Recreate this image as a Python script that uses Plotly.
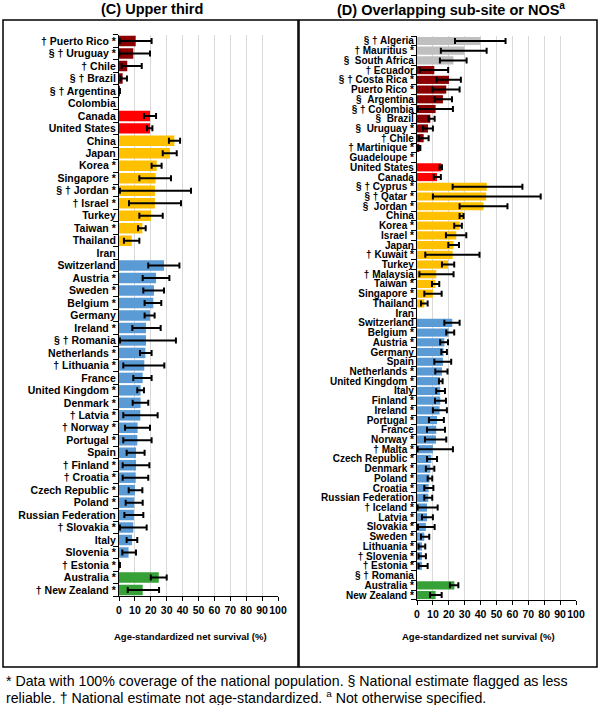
import plotly.graph_objects as go

W, H = 600, 705

# ---------------- Panel C: Upper third ----------------
c_countries = [
    "† Puerto Rico *", "§ † Uruguay *", "† Chile", "§ † Brazil", "§ † Argentina", "Colombia",
    "Canada", "United States",
    "China", "Japan", "Korea *", "Singapore *", "§ † Jordan *", "† Israel *", "Turkey",
    "Taiwan *", "Thailand", "Iran",
    "Switzerland", "Austria *", "Sweden *", "Belgium *", "Germany", "Ireland *", "§ † Romania",
    "Netherlands *", "† Lithuania *", "France", "United Kingdom *", "Denmark *", "† Latvia *",
    "† Norway *", "Portugal *", "Spain", "† Finland *", "† Croatia *", "Czech Republic *",
    "Poland *", "Russian Federation", "† Slovakia *", "Italy", "Slovenia *", "† Estonia *",
    "Australia *", "† New Zealand *",
]
c_values = [10.5, 9.0, 5.2, 2.3, 0.6, None,
            19.5, 19.5,
            34.8, 32.0, 23.7, 23.0, 22.6, 22.6, 20.1, 14.7, 8.0, None,
            28.3, 23.3, 22.0, 21.6, 19.5, 17.0, 17.0, 16.6, 15.9, 14.9, 13.6, 13.6, 13.4,
            11.7, 11.5, 10.7, 10.7, 10.5, 10.0, 9.6, 9.4, 9.0, 8.2, 6.0, 0.6,
            25.0, 14.9]
c_low = [0.5, 0.2, 1.7, 1.0, None, None,
         15.7, 17.6,
         31.4, 27.5, 20.5, 12.8, 0.6, 6.3, 12.8, 12.0, 3.1, None,
         18.4, 14.9, 15.3, 16.1, 16.1, 8.4, 0.6, 13.2, 2.7, 9.0, 11.5, 8.6, 2.7,
         3.8, 2.7, 4.8, 2.3, 2.3, 6.1, 4.2, 3.4, 0.6, 4.8, 2.1, None,
         20.0, 5.5]
c_high = [20.5, 19.5, 14.3, 5.0, None, None,
          23.3, 21.0,
          38.4, 36.3, 26.8, 32.7, 45.3, 39.0, 27.5, 16.8, 12.8, None,
          38.0, 31.7, 28.3, 26.6, 22.4, 26.2, 35.8, 20.5, 28.5, 20.5, 15.7, 18.4, 24.3,
          19.5, 20.5, 16.1, 19.1, 18.4, 14.7, 14.9, 15.3, 17.4, 11.5, 10.7, None,
          30.0, 25.2]
c_groups = (["darkred"] * 6 + ["red"] * 2 + ["amber"] * 10 + ["blue"] * 25 + ["green"] * 2)

# ---------------- Panel D: Overlapping sub-site or NOS ----------------
d_countries = [
    "§ † Algeria", "† Mauritius *", "§ \u00a0South Africa",
    "† Ecuador", "§ † Costa Rica *", "Puerto Rico *", "§ \u00a0Argentina", "§ † Colombia",
    "§ \u00a0Brazil", "§ \u00a0Uruguay *", "† Chile", "† Martinique *", "Guadeloupe *",
    "United States", "Canada",
    "§ † Cyprus *", "§ † Qatar *", "§ \u00a0Jordan *", "China", "Korea *", "Israel *", "Japan",
    "† Kuwait *", "Turkey", "† Malaysia", "Taiwan *", "Singapore *", "Thailand", "Iran",
    "Switzerland", "Belgium *", "Austria *", "Germany", "Spain", "Netherlands *",
    "United Kingdom *", "Italy", "Finland *", "Ireland *", "Portugal *", "France", "Norway *",
    "† Malta *", "Czech Republic *", "Denmark *", "Poland *", "Croatia *", "Russian Federation",
    "† Iceland *", "Latvia *", "Slovakia *", "Sweden *", "Lithuania *", "† Slovenia *",
    "† Estonia *", "§ † Romania",
    "Australia *", "New Zealand *",
]
d_values = [40.0, 29.8, 22.9,
            10.9, 20.1, 18.4, 16.3, 11.7, 8.4, 6.9, 4.2, 1.5, None,
            15.3, 12.6,
            43.9, 43.5, 41.8, 28.9, 26.8, 24.7, 23.0, 22.4, 19.5, 12.1, 11.5, 10.0, 4.6, None,
            22.2, 19.9, 17.2, 16.7, 16.3, 15.7, 14.6, 14.6, 14.6, 14.2, 12.6, 12.1, 11.9,
            10.0, 9.0, 8.4, 7.9, 7.3, 7.1, 6.3, 6.3, 5.6, 4.6, 3.1, 3.1, 3.1, None,
            23.5, 11.7]
d_low = [23.9, 15.0, 14.4,
         1.8, 12.4, 9.8, 11.1, 0.4, 7.3, 3.8, 1.3, 0.8, None,
         14.2, 10.5,
         22.4, 10.0, 26.8, 26.8, 23.4, 18.2, 19.7, 5.2, 15.7, 1.5, 9.4, 4.6, 2.5, None,
         17.2, 18.4, 14.6, 15.3, 10.9, 11.5, 13.8, 12.1, 11.3, 10.0, 7.5, 6.3, 5.0,
         0.4, 6.3, 5.6, 6.7, 4.6, 4.6, 0.4, 3.1, 0.6, 2.5, 1.0, 1.0, 1.0, None,
         20.7, 8.2]
d_high = [55.7, 43.8, 31.2,
          19.6, 27.6, 26.8, 22.0, 22.6, 11.1, 10.0, 7.3, 2.1, None,
          15.7, 15.0,
          66.3, 77.8, 56.9, 29.3, 28.2, 31.0, 26.4, 39.3, 23.4, 23.0, 14.0, 15.5, 6.7, None,
          26.8, 23.4, 19.5, 18.8, 21.5, 19.2, 16.1, 17.6, 18.2, 18.8, 16.9, 17.6, 18.4,
          22.6, 12.6, 10.9, 9.6, 10.3, 9.6, 13.0, 10.0, 11.1, 7.7, 5.2, 5.6, 6.7, None,
          26.0, 15.5]
d_groups = (["gray"] * 3 + ["darkred"] * 10 + ["red"] * 2 + ["amber"] * 14 +
            ["blue"] * 27 + ["green"] * 2)

x_ticks = [0, 10, 20, 30, 40, 50, 60, 70, 80, 90, 100]

palette = {
    "darkred": "#8B0000",
    "red": "#FF0000",
    "amber": "#FFC000",
    "blue": "#5B9BD5",
    "green": "#36A136",
    "gray": "#BFBFBF",
}

FONT = "Liberation Sans, Arial, sans-serif"


def err_parts(vals, lo, hi):
    plus, minus = [], []
    for v, l, h in zip(vals, lo, hi):
        if v is None or l is None or h is None:
            plus.append(None)
            minus.append(None)
        else:
            plus.append(h - v)
            minus.append(v - l)
    return plus, minus


fig = go.Figure()

for names, vals, lo, hi, groups, xa, ya in [
    (c_countries, c_values, c_low, c_high, c_groups, "x", "y"),
    (d_countries, d_values, d_low, d_high, d_groups, "x2", "y2"),
]:
    plus, minus = err_parts(vals, lo, hi)
    fig.add_trace(go.Bar(
        x=vals, y=names, orientation="h",
        marker=dict(color=[palette[g] for g in groups], line=dict(width=0)),
        error_x=dict(type="data", symmetric=False, array=plus, arrayminus=minus,
                     color="black", thickness=2, width=3),
        xaxis=xa, yaxis=ya, showlegend=False, hoverinfo="x+y",
    ))


def px_x(p):
    return p / W


def px_y(p):
    return 1 - p / H


xaxis_common = dict(
    range=[0, 100], tickmode="array", tickvals=x_ticks, ticktext=[str(t) for t in x_ticks],
    tickangle=0,
    showgrid=True, gridcolor="#D9D9D9", gridwidth=1, zeroline=False,
    showline=True, linecolor="black", linewidth=1,
    ticks="outside", ticklen=4, tickcolor="black",
    tickfont=dict(family=FONT, size=10.5, color="black", weight="bold"),
    automargin=False, fixedrange=True,
)
yaxis_common = dict(
    type="category", autorange="reversed",
    showline=True, linecolor="black", linewidth=1.2,
    ticks="outside", ticklen=5, tickcolor="black", tickson="boundaries",
    showgrid=False, zeroline=False, tickangle=0,
    automargin=False, fixedrange=True,
)

fig.update_layout(
    width=W, height=H, autosize=False,
    margin=dict(l=0, r=0, t=0, b=0),
    paper_bgcolor="white", plot_bgcolor="white",
    bargap=0.16,
    font=dict(family=FONT, color="black"),
    xaxis=dict(xaxis_common, domain=[px_x(119), px_x(278)], anchor="y"),
    yaxis=dict(yaxis_common, domain=[px_y(596.2), px_y(34.8)], anchor="x",
               categoryorder="array", categoryarray=c_countries,
               tickmode="array", tickvals=c_countries, ticktext=c_countries,
               tickfont=dict(family=FONT, size=10.5, color="black", weight="bold")),
    xaxis2=dict(xaxis_common, domain=[px_x(417), px_x(576)], anchor="y2"),
    yaxis2=dict(yaxis_common, domain=[px_y(599.9), px_y(36.1)], anchor="x2",
                categoryorder="array", categoryarray=d_countries,
                tickmode="array", tickvals=d_countries, ticktext=d_countries,
                tickfont=dict(family=FONT, size=10, color="black", weight="bold")),
)

# Panel frames
fig.add_shape(type="rect", xref="paper", yref="paper",
              x0=px_x(3), x1=px_x(298), y0=px_y(667), y1=px_y(20),
              line=dict(color="black", width=1.5))
fig.add_shape(type="rect", xref="paper", yref="paper",
              x0=px_x(299), x1=px_x(597), y0=px_y(667), y1=px_y(20),
              line=dict(color="black", width=1.5))

annos = [
    dict(text="<b>(C) Upper third</b>", x=px_x(152), y=px_y(9), size=14.5),
    dict(text="<b>(D) Overlapping sub-site or NOS<sup>a</sup></b>", x=px_x(451), y=px_y(9), size=14.5),
    dict(text="<b>Age-standardized net survival (%)</b>", x=px_x(190), y=px_y(636), size=9.5),
    dict(text="<b>Age-standardized net survival (%)</b>", x=px_x(478), y=px_y(636), size=9.5),
]
for a in annos:
    fig.add_annotation(text=a["text"], x=a["x"], y=a["y"], xref="paper", yref="paper",
                       showarrow=False, xanchor="center", yanchor="middle",
                       font=dict(family=FONT, size=a["size"], color="black"))

foot = [
    "* Data with 100% coverage of the national population. § National estimate flagged as less",
    "reliable. † National estimate not age-standardized. <sup>a</sup> Not otherwise specified.",
]
for i, line in enumerate(foot):
    fig.add_annotation(text=line, x=px_x(4), y=px_y(681 + 16 * i), xref="paper", yref="paper",
                       showarrow=False, xanchor="left", yanchor="middle",
                       font=dict(family=FONT, size=14.2, color="black"))

fig.write_html("out.html", config={"displayModeBar": False},
               post_script="document.body.style.margin='0';document.body.style.overflow='hidden';")
